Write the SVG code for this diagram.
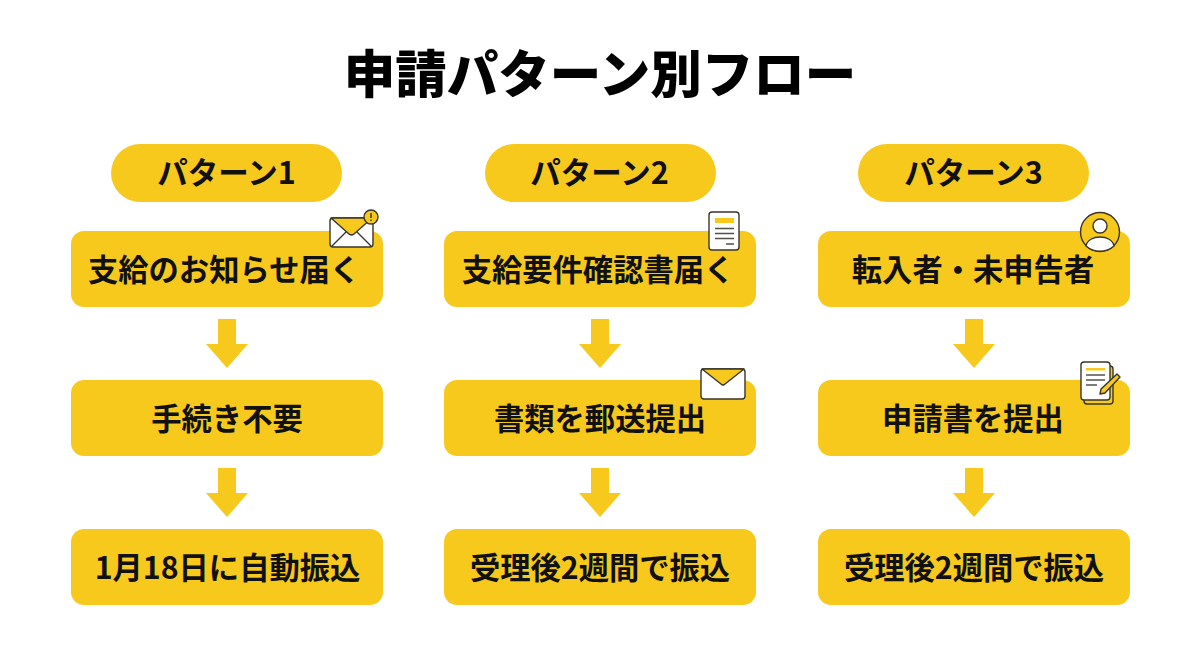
<svg xmlns="http://www.w3.org/2000/svg" width="1200" height="655" viewBox="0 0 1200 655">
<style>
text{font-family:"Noto Sans CJK JP","Noto Sans",sans-serif;font-weight:700;fill:#111;text-anchor:middle}
.t{font-size:30.300px}
.h{font-size:30.500px}
.title{font-size:51.500px;font-weight:900;fill:#000}
.y{fill:#f6c91c}
.l{fill:none;stroke:#3a3528;stroke-width:1.400;stroke-linejoin:round;stroke-linecap:round}
.s{stroke:#3a3528;stroke-width:1.400;stroke-linejoin:round}
.g{fill:none;stroke:#55524a;stroke-width:1.400}
</style>
<defs>
<polygon id="arrow" class="y" points="-9,0 9,0 9,25 21,25 0,49 -21,25 -9,25"/>
</defs>
<rect width="1200" height="655" fill="#fff"/>
<text class="title" x="600" y="92.500">申請パターン別フロー</text>
<g id="connectors">
<use href="#arrow" x="227" y="319"/><use href="#arrow" x="227" y="468"/>
<use href="#arrow" x="600" y="319"/><use href="#arrow" x="600" y="468"/>
<use href="#arrow" x="974" y="319"/><use href="#arrow" x="974" y="468"/>
</g>
<g id="header1"><rect class="y" x="111" y="144" width="231" height="58" rx="29"/><text class="h" x="226.500" y="184">パターン1</text></g>
<g id="header2"><rect class="y" x="485" y="144" width="231" height="58" rx="29"/><text class="h" x="599.500" y="184">パターン2</text></g>
<g id="header3"><rect class="y" x="858" y="144" width="231" height="58" rx="29"/><text class="h" x="973.500" y="184">パターン3</text></g>
<g id="p1-1"><rect class="y" x="71" y="231" width="312" height="76" rx="13"/><text class="t" x="224" y="280.500">支給のお知らせ届く</text>
<g id="icon-mail-alert"><rect x="330" y="218" width="43" height="29" rx="3" fill="#fff" class="s"/><path d="M331,218 L372,218 L354,234 Q351.500,236 349,234 Z" class="y s"/><path class="l" d="M332,246 L346,232 M371,246 L357,232"/><circle cx="371" cy="217" r="7" class="y s"/><path d="M371,213v5M371,219.500v1.500" stroke="#3a3528" stroke-width="1.400" fill="none"/></g></g>
<g id="p1-2"><rect class="y" x="71" y="380" width="312" height="76" rx="13"/><text class="t" x="227" y="429.500">手続き不要</text></g>
<g id="p1-3"><rect class="y" x="71" y="529" width="312" height="76" rx="13"/><text class="t" x="227.500" y="578.500">1月18日に自動振込</text></g>
<g id="p2-1"><rect class="y" x="444" y="231" width="312" height="76" rx="13"/><text class="t" x="598" y="280.500">支給要件確認書届く</text>
<g id="icon-doc"><rect x="709" y="212" width="30" height="38" rx="3" fill="#fff" class="s"/><rect x="715" y="218" width="19" height="5" fill="#f6c91c"/><path class="g" d="M715,228.500H734M715,233.500H734M715,238.500H734M726,244H734"/></g></g>
<g id="p2-2"><rect class="y" x="444" y="380" width="312" height="76" rx="13"/><text class="t" x="600" y="429.500">書類を郵送提出</text>
<g id="icon-mail"><rect x="701" y="369" width="44" height="30" rx="3" fill="#fff" class="s"/><path d="M702,369 L744,369 L725,384 Q723,386 721,384 Z" class="y s"/></g></g>
<g id="p2-3"><rect class="y" x="444" y="529" width="312" height="76" rx="13"/><text class="t" x="600" y="578.500">受理後2週間で振込</text></g>
<g id="p3-1"><rect class="y" x="818" y="231" width="312" height="76" rx="13"/><text class="t" x="973" y="280.500">転入者・未申告者</text>
<g id="icon-user"><circle cx="1100" cy="232" r="19.500" class="y s"/><circle cx="1100" cy="226" r="7" fill="#fff" class="s"/><path d="M1086,246 C1088,234 1112,234 1114,246 C1106,253 1094,253 1086,246 Z" fill="#fff" class="s"/></g></g>
<g id="p3-2"><rect class="y" x="818" y="380" width="312" height="76" rx="13"/><text class="t" x="973" y="429.500">申請書を提出</text>
<g id="icon-note"><rect x="1084" y="366" width="29" height="38" rx="3" class="y s"/><rect x="1081" y="362" width="29" height="38" rx="3" fill="#fff" class="s"/><rect x="1086" y="368" width="19" height="2.500" fill="#f6c91c"/><path class="g" d="M1086,375H1105M1086,380H1105M1086,385H1097"/><path d="M1117,374 L1120,377 L1105,393 L1100,394 L1101,389 Z" class="y s"/></g></g>
<g id="p3-3"><rect class="y" x="818" y="529" width="312" height="76" rx="13"/><text class="t" x="974" y="578.500">受理後2週間で振込</text></g>
</svg>
